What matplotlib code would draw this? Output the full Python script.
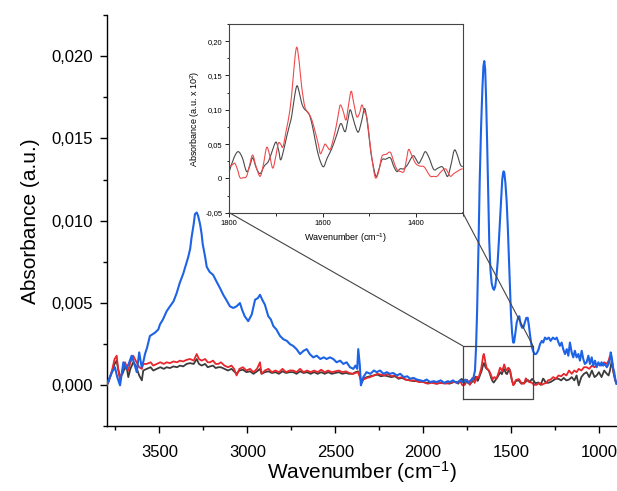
import numpy as np
import matplotlib
matplotlib.use("Agg")
import matplotlib.pyplot as plt
from matplotlib.ticker import FuncFormatter, MultipleLocator
from matplotlib.path import Path
from matplotlib.patches import PathPatch

plt.rcParams['font.family'] = ['Liberation Sans', 'DejaVu Sans']
plt.rcParams['mathtext.fontset'] = 'custom'
plt.rcParams['mathtext.rm'] = 'Liberation Sans'
plt.rcParams['mathtext.it'] = 'Liberation Sans:italic'
plt.rcParams['mathtext.bf'] = 'Liberation Sans:bold'
plt.rcParams['axes.unicode_minus'] = False

# ---------------- spectra (main plot, values in 10^-3 a.u.) ----------------
# red / black share this grid above the zoomed window
hi_wn = [3800, 3790, 3770, 3755, 3743, 3735, 3724, 3710, 3696, 3685, 3677, 3665,
         3649, 3635, 3615, 3600, 3592, 3572, 3550, 3535, 3515, 3495, 3475, 3459,
         3440, 3420, 3400, 3383, 3365, 3345, 3326, 3305, 3288, 3275, 3260, 3240,
         3225, 3212, 3195, 3180, 3165, 3150, 3130, 3110, 3090, 3075, 3061, 3045,
         3025, 3005, 2985, 2965, 2945, 2928, 2919, 2900, 2880, 2860, 2840, 2820,
         2800, 2780, 2760, 2739, 2720, 2700, 2680, 2660, 2640, 2620, 2600, 2580,
         2560, 2540, 2520, 2500, 2480, 2460, 2440, 2420, 2400, 2385, 2370, 2360,
         2350, 2340, 2320, 2302, 2280, 2260, 2240, 2220, 2200, 2180, 2160, 2140,
         2120, 2100, 2075, 2050, 2025, 2000, 1975, 1950, 1925, 1900, 1875, 1850,
         1825, 1810]
red_hi = [0.0, 0.2, 0.9, 1.6, 1.8, 1.0, 0.3, 0.9, 1.4, 1.1, 0.9, 1.4,
          1.8, 1.5, 1.1, 1.0, 1.3, 1.3, 1.4, 1.2, 1.3, 1.4, 1.3, 1.4,
          1.35, 1.45, 1.4, 1.5, 1.45, 1.55, 1.6, 1.5, 1.9, 1.6, 1.5, 1.6,
          1.4, 1.4, 1.5, 1.3, 1.3, 1.4, 1.2, 1.1, 1.2, 1.0, 0.6, 1.0,
          1.1, 0.9, 1.0, 0.8, 1.0, 1.4, 0.7, 0.9, 1.0, 0.8, 0.9, 0.8,
          1.0, 0.8, 0.9, 0.9, 0.8, 1.0, 0.8, 0.9, 0.8, 0.9, 0.8, 0.95,
          0.8, 0.9, 0.8, 0.85, 0.9, 0.8, 0.85, 0.75, 0.7, 0.75, 0.8, 0.5,
          0.15, 0.35, 0.45, 0.5, 0.6, 0.7, 0.65, 0.6, 0.7, 0.55, 0.6, 0.45,
          0.5, 0.35, 0.3, 0.3, 0.2, 0.2, 0.1, 0.15, 0.1, 0.15, 0.1, 0.15,
          0.2, 0.18]
black_hi = [0.0, 0.2, 0.8, 1.3, 1.5, 1.0, 0.5, 0.7, 1.1, 1.0, 0.5, 1.0,
            1.4, 1.2, 0.6, 0.3, 0.9, 1.0, 1.1, 0.9, 1.0, 1.1, 1.0, 1.1,
            1.05, 1.15, 1.1, 1.2, 1.15, 1.3, 1.35, 1.3, 1.6, 1.3, 1.2, 1.3,
            1.1, 1.15, 1.2, 1.05, 1.1, 1.1, 1.0, 0.9, 1.0, 0.85, 0.7, 0.9,
            0.95, 0.8, 0.85, 0.7, 0.85, 1.0, 0.7, 0.8, 0.85, 0.75, 0.8, 0.7,
            0.85, 0.75, 0.8, 0.8, 0.7, 0.85, 0.75, 0.8, 0.7, 0.8, 0.7, 0.8,
            0.7, 0.8, 0.7, 0.75, 0.8, 0.7, 0.75, 0.7, 0.7, 0.8, 0.85, 0.6,
            0.2, 0.4, 0.5, 0.55, 0.6, 0.65, 0.55, 0.6, 0.55, 0.5, 0.55, 0.4,
            0.45, 0.35, 0.3, 0.25, 0.3, 0.2, 0.15, 0.2, 0.1, 0.15, 0.15, 0.1,
            0.2, 0.2]

# red / black share this grid below the zoomed window
lo_wn = [1290, 1275, 1260, 1245, 1230, 1215, 1200, 1185, 1170, 1155, 1140, 1127,
         1115, 1100, 1085, 1070, 1055, 1040, 1025, 1013, 1000, 985, 970, 955,
         945, 937, 927, 918, 908, 900]
red_lo = [0.3, 0.35, 0.5, 0.4, 0.6, 0.55, 0.7, 0.6, 0.9, 0.7, 0.9, 0.8,
          1.0, 0.9, 1.1, 1.1, 1.0, 1.2, 1.1, 1.2, 1.3, 1.2, 1.4, 1.3,
          1.5, 1.8, 1.6, 0.9, 0.4, 0.1]
black_lo = [0.15, 0.2, 0.3, 0.4, 0.4, 0.3, 0.45, 0.3, 0.35, 0.5, 0.3, 0.6,
            0.0, 0.5, 0.7, 0.8, 0.5, 0.9, 0.5, 0.6, 0.8, 0.5, 0.9, 0.7,
            0.6, 0.9, 1.5, 0.8, 0.3, 0.1]

blue_wn = [3800, 3790, 3770, 3753, 3740, 3724, 3705, 3690, 3675, 3658, 3645, 3629,
           3615, 3601, 3590, 3582, 3570, 3554, 3540, 3525, 3506, 3497, 3480, 3459,
           3440, 3420, 3402, 3385, 3364, 3350, 3336, 3325, 3317, 3305, 3298, 3288,
           3280, 3269, 3260, 3254, 3240, 3231, 3215, 3194, 3175, 3155, 3137, 3120,
           3099, 3080, 3061, 3042, 3030, 3015, 2995, 2975, 2956, 2940, 2928, 2915,
           2900, 2881, 2866, 2852, 2835, 2814, 2795, 2775, 2757, 2740, 2720, 2700,
           2680, 2662, 2645, 2625, 2605, 2585, 2565, 2549, 2530, 2511, 2492, 2472,
           2454, 2435, 2416, 2397, 2385, 2375, 2369, 2360, 2354, 2345, 2340, 2322,
           2300, 2280, 2264, 2245, 2225, 2207, 2190, 2170, 2150, 2130, 2110, 2090,
           2075, 2055, 2035, 2015, 1999, 1980, 1960, 1940, 1923, 1900, 1880, 1860,
           1847, 1830, 1810, 1790, 1775, 1760, 1745, 1730, 1715, 1705, 1699, 1693,
           1685, 1678, 1670, 1663, 1657, 1652, 1647, 1642, 1636, 1630, 1624, 1617,
           1610, 1603, 1597, 1590, 1583, 1576, 1570, 1563, 1557, 1550, 1545, 1542,
           1538, 1532, 1525, 1518, 1512, 1506, 1500, 1494, 1488, 1483, 1475, 1468,
           1460, 1453, 1445, 1437, 1430, 1422, 1413, 1405, 1398, 1390, 1383, 1375,
           1366, 1358, 1351, 1343, 1335, 1325, 1317, 1307, 1297, 1285, 1275, 1262,
           1250, 1240, 1230, 1222, 1212, 1203, 1193, 1183, 1174, 1165, 1155, 1146,
           1137, 1127, 1117, 1108, 1098, 1089, 1080, 1070, 1060, 1051, 1041, 1032,
           1022, 1013, 1003, 994, 985, 975, 966, 955, 945, 937, 933, 927,
           920, 913, 906, 900]
blue_val = [0.0, 0.3, 0.8, 1.1, 0.5, 0.0, 1.4, 1.0, 1.3, 1.8, 1.4, 0.8,
            2.0, 1.1, 1.5, 1.9, 2.3, 3.0, 3.1, 3.2, 3.4, 3.7, 4.0, 4.5,
            4.8, 5.1, 5.6, 6.2, 6.8, 7.3, 7.8, 8.3, 9.0, 9.8, 10.4, 10.5,
            10.3, 9.8, 9.2, 8.6, 7.8, 7.2, 6.9, 6.7, 6.3, 5.9, 5.5, 5.2,
            4.8, 4.7, 4.8, 5.0, 4.6, 4.2, 3.9, 4.3, 5.2, 5.3, 5.5, 5.2,
            4.9, 4.2, 4.0, 3.6, 3.4, 3.0, 2.8, 2.7, 2.5, 2.4, 2.2, 1.9,
            2.1, 2.2, 1.9, 1.7, 1.8, 1.6, 1.7, 1.6, 1.7, 1.6, 1.4, 1.5,
            1.3, 1.4, 1.1, 1.0, 1.2, 1.0, 2.2, 1.2, 0.0, 0.3, 0.5, 0.8,
            0.7, 0.9, 0.8, 0.9, 0.7, 0.8, 0.7, 0.75, 0.6, 0.7, 0.5, 0.55,
            0.4, 0.45, 0.35, 0.3, 0.25, 0.35, 0.2, 0.25, 0.2, 0.3, 0.15, 0.25,
            0.2, 0.3, 0.15, 0.3, 0.2, 0.35, 0.15, 0.3, 0.4, 0.9, 2.3, 4.5,
            8.5, 12.5, 15.8, 18.0, 19.4, 19.7, 19.2, 17.5, 14.8, 11.8, 8.8, 7.0,
            6.2, 5.9, 5.8, 6.0, 6.6, 7.5, 8.6, 10.0, 11.2, 12.5, 12.9, 13.0,
            12.9, 12.3, 11.2, 9.5, 7.7, 5.8, 4.2, 3.2, 2.6, 2.6, 3.2, 3.8,
            4.1, 4.2, 3.7, 3.5, 3.5, 3.8, 4.1, 4.1, 3.6, 2.9, 2.4, 2.1,
            1.9, 1.9, 2.0, 2.2, 2.5, 2.7, 2.6, 2.9, 2.8, 2.9, 2.7, 2.9,
            2.8, 2.9, 2.6, 2.4, 2.6, 2.2, 1.9, 2.2, 1.8, 2.6, 2.0, 1.7,
            2.1, 1.7, 1.9, 1.5, 2.1, 1.6, 1.3, 1.4, 1.8, 1.3, 1.7, 1.2,
            1.5, 1.1, 1.4, 1.2, 1.4, 1.2, 1.3, 1.1, 1.3, 1.6, 2.0, 1.7,
            1.1, 0.8, 0.3, 0.1]

# ---------------- amide region (inset, values in 10^-2 a.u.) ----------------
amide_wn_red = [1800, 1793, 1788, 1782, 1777, 1770, 1763, 1757, 1750, 1743, 1734, 1727,
                1720, 1714, 1707, 1701, 1695, 1690, 1685, 1678, 1670, 1664, 1659, 1655,
                1650, 1645, 1638, 1630, 1623, 1616, 1609, 1605, 1600, 1595, 1590, 1584,
                1578, 1571, 1566, 1562, 1556, 1550, 1545, 1539, 1534, 1527, 1521, 1516,
                1511, 1505, 1500, 1494, 1487, 1480, 1473, 1464, 1455, 1448, 1441, 1433,
                1426, 1421, 1416, 1410, 1401, 1392, 1383, 1376, 1369, 1362, 1355, 1346,
                1337, 1331, 1326, 1319, 1312, 1305, 1300]
amide_red = [0.017, 0.020, 0.022, 0.012, 0.001, 0.001, 0.003, 0.018, 0.034, 0.018, 0.003, 0.020,
             0.045, 0.035, 0.015, 0.030, 0.051, 0.050, 0.046, 0.070, 0.100, 0.140, 0.178, 0.191,
             0.168, 0.134, 0.104, 0.095, 0.085, 0.068, 0.049, 0.036, 0.042, 0.050, 0.046, 0.042,
             0.055, 0.076, 0.095, 0.107, 0.098, 0.085, 0.105, 0.127, 0.112, 0.090, 0.095, 0.107,
             0.098, 0.088, 0.060, 0.027, 0.001, 0.010, 0.032, 0.035, 0.038, 0.025, 0.013, 0.010,
             0.010, 0.025, 0.042, 0.035, 0.022, 0.018, 0.017, 0.010, 0.003, 0.003, 0.003, 0.010,
             0.014, 0.008, 0.003, 0.007, 0.010, 0.013, 0.014]

amide_wn_black = [1800, 1790, 1781, 1772, 1763, 1756, 1750, 1742, 1734, 1725, 1716, 1708,
                  1700, 1694, 1690, 1684, 1677, 1670, 1666, 1660, 1655, 1650, 1645, 1640,
                  1633, 1627, 1620, 1612, 1605, 1598, 1590, 1580, 1570, 1561, 1552, 1546,
                  1541, 1535, 1528, 1523, 1516, 1510, 1504, 1498, 1494, 1486, 1480, 1473,
                  1465, 1455, 1448, 1441, 1434, 1426, 1418, 1410, 1405, 1400, 1394, 1387,
                  1380, 1372, 1362, 1353, 1344, 1338, 1332, 1325, 1318, 1312, 1305, 1300]
amide_black = [0.010, 0.030, 0.039, 0.030, 0.010, 0.018, 0.030, 0.015, 0.007, 0.018, 0.025, 0.040,
               0.053, 0.040, 0.027, 0.040, 0.061, 0.080, 0.092, 0.120, 0.135, 0.125, 0.110, 0.102,
               0.097, 0.090, 0.070, 0.042, 0.025, 0.017, 0.030, 0.044, 0.063, 0.080, 0.068, 0.085,
               0.100, 0.088, 0.072, 0.068, 0.085, 0.102, 0.080, 0.045, 0.027, 0.003, 0.012, 0.027,
               0.028, 0.030, 0.018, 0.010, 0.014, 0.014, 0.020, 0.030, 0.033, 0.028, 0.022, 0.030,
               0.039, 0.030, 0.013, 0.015, 0.017, 0.010, 0.003, 0.020, 0.041, 0.035, 0.020, 0.017]

# zoom window drawn on the main plot (cm-1, a.u.)
zoom_box_wn = [1775, 1375]
zoom_box_abs = [-0.0008, 0.0024]

BLUE = '#1d63e6'
RED = '#e8262b'
BLACK = '#3c3c3c'


def comma(fmt):
    return FuncFormatter(lambda v, p: (fmt % v).replace('.', ','))


def smooth_trace(axes, xs, ys, **kw):
    """Draw a trace as a smooth Bezier curve passing through every point."""
    x = np.asarray(xs, float)
    y = np.asarray(ys, float)
    n = len(x)
    verts = [(x[0], y[0])]
    codes = [Path.MOVETO]
    for i in range(n - 1):
        i0, i2, i3 = max(i - 1, 0), i + 1, min(i + 2, n - 1)
        c1 = (x[i] + (x[i2] - x[i0]) / 6, y[i] + (y[i2] - y[i0]) / 6)
        c2 = (x[i2] - (x[i3] - x[i]) / 6, y[i2] - (y[i3] - y[i]) / 6)
        verts += [c1, c2, (x[i2], y[i2])]
        codes += [Path.CURVE4] * 3
    axes.add_patch(PathPatch(Path(verts, codes), facecolor='none', **kw))


# assemble full red / black traces: the amide window comes from the inset data
red_wn = np.concatenate([hi_wn, amide_wn_red, lo_wn])
red_abs = np.concatenate([np.array(red_hi) * 1e-3, np.array(amide_red) * 1e-2,
                          np.array(red_lo) * 1e-3])
black_wn = np.concatenate([hi_wn, amide_wn_black, lo_wn])
black_abs = np.concatenate([np.array(black_hi) * 1e-3, np.array(amide_black) * 1e-2,
                            np.array(black_lo) * 1e-3])

fig = plt.figure(figsize=(6.17, 4.91), dpi=100)
ax = fig.add_axes([0.1729, 0.1314, 0.8263, 0.8381])

ax.plot(black_wn, black_abs, color=BLACK, lw=1.3, zorder=2)
ax.plot(red_wn, red_abs, color=RED, lw=1.3, zorder=3)
ax.plot(blue_wn, np.array(blue_val) * 1e-3, color=BLUE, lw=1.5, zorder=4)

ax.set_xlim(3800, 900)
ax.set_ylim(-0.0025, 0.0225)
ax.xaxis.set_major_locator(MultipleLocator(500))
ax.xaxis.set_minor_locator(MultipleLocator(250))
ax.yaxis.set_major_locator(MultipleLocator(0.005))
ax.yaxis.set_minor_locator(MultipleLocator(0.0025))
ax.yaxis.set_major_formatter(comma('%.3f'))
ax.xaxis.set_major_formatter(FuncFormatter(lambda v, p: '%d' % v))
for s in ('top', 'right'):
    ax.spines[s].set_visible(False)
for s in ('left', 'bottom'):
    ax.spines[s].set_linewidth(1.0)
ax.tick_params(axis='x', which='major', direction='out', length=5, width=1.0,
               labelsize=12, pad=8)
ax.tick_params(axis='y', which='major', direction='out', length=5, width=1.0,
               labelsize=12, pad=5)
ax.tick_params(which='minor', direction='out', length=3, width=1.0)
ax.set_xlabel('Wavenumber (cm$^{-1}$)', fontsize=15, labelpad=0)
ax.set_ylabel('Absorbance (a.u.)', fontsize=15, labelpad=8)

# zoom window on the main plot
x0, x1 = zoom_box_wn
y0, y1 = zoom_box_abs
ax.plot([x0, x1, x1, x0, x0], [y0, y0, y1, y1, y0], color='#444444', lw=0.9, zorder=5)

# inset with the amide bands
ins = fig.add_axes([0.3716, 0.5668, 0.3783, 0.3843])
smooth_trace(ins, amide_wn_black, amide_black, edgecolor='#4a4a4a', lw=0.8)
smooth_trace(ins, amide_wn_red, amide_red, edgecolor='#f04a4d', lw=0.8)
ins.set_xlim(1800, 1300)
ins.set_ylim(-0.05, 0.225)
ins.xaxis.set_major_locator(MultipleLocator(200))
ins.xaxis.set_minor_locator(MultipleLocator(100))
ins.yaxis.set_major_locator(MultipleLocator(0.05))
ins.yaxis.set_minor_locator(MultipleLocator(0.025))
ins.yaxis.set_major_formatter(FuncFormatter(
    lambda v, p: '0' if abs(v) < 1e-9 else ('%.2f' % v).replace('.', ',')))
ins.xaxis.set_major_formatter(FuncFormatter(lambda v, p: '%d' % v))
for s in ins.spines.values():
    s.set_linewidth(0.8)
    s.set_color('#444444')
ins.tick_params(which='major', direction='out', length=3, width=0.6, labelsize=5.5, pad=2)
ins.tick_params(which='minor', direction='out', length=1.8, width=0.6)
ins.set_xlabel('Wavenumber (cm$^{-1}$)', fontsize=6.5, labelpad=3)
ins.set_ylabel('Absorbance (a.u. x 10$^{2}$)', fontsize=6.5, labelpad=2)

# connector lines from the zoom window to the inset corners
trans_fig = fig.transFigure.inverted()
for (wx, ix) in ((x0, 1800), (x1, 1300)):
    p_main = trans_fig.transform(ax.transData.transform((wx, y1)))
    p_ins = trans_fig.transform(ins.transData.transform((ix, -0.05)))
    fig.add_artist(plt.Line2D([p_main[0], p_ins[0]], [p_main[1], p_ins[1]],
                              transform=fig.transFigure, color='#444444', lw=0.8))

fig.savefig('out.png', dpi=100)
